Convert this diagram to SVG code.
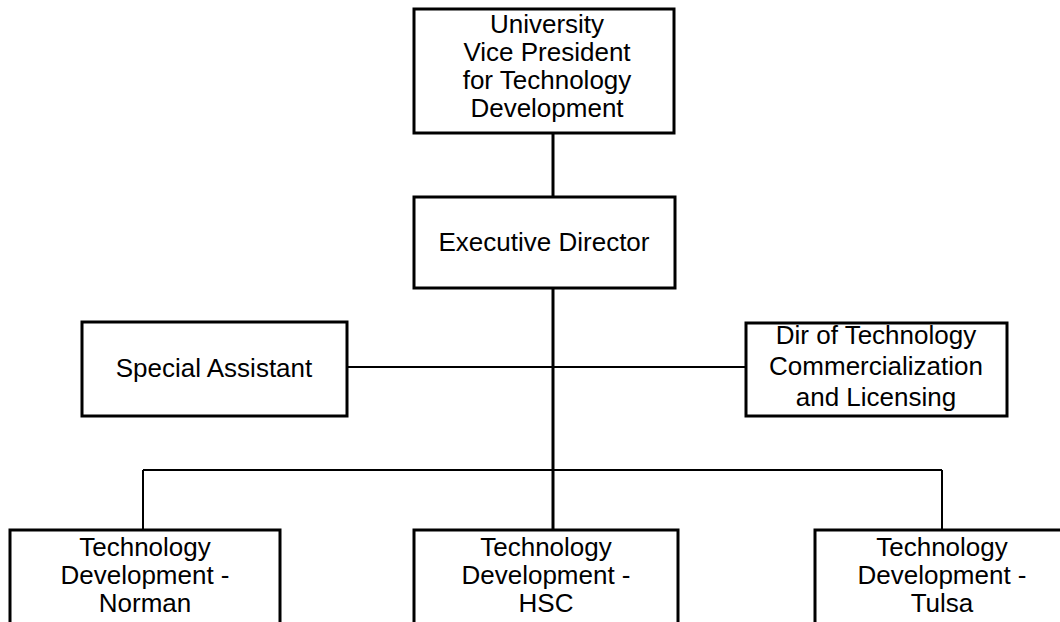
<svg xmlns="http://www.w3.org/2000/svg" width="1060" height="622" viewBox="0 0 1060 622">
<style>
.box{fill:#fff;stroke:#000;stroke-width:3}
.t{font-family:"Liberation Sans",Arial,sans-serif;font-size:26px;fill:#000;text-anchor:middle}
.c{stroke:#000;fill:none}
</style>
<rect width="1060" height="622" fill="#fff"/>
<g id="connectors">
<line class="c" x1="553" y1="133" x2="553" y2="197" stroke-width="3"/>
<line class="c" x1="553" y1="288" x2="553" y2="470" stroke-width="3"/>
<line class="c" x1="347" y1="367" x2="746" y2="367" stroke-width="2"/>
<line class="c" x1="143" y1="470" x2="942" y2="470" stroke-width="2"/>
<line class="c" x1="143" y1="470" x2="143" y2="530" stroke-width="2"/>
<line class="c" x1="942" y1="470" x2="942" y2="530" stroke-width="2"/>
<line class="c" x1="553" y1="470" x2="553" y2="530" stroke-width="3"/>
</g>
<g id="vp">
<rect class="box" x="414" y="9" width="260" height="124"/>
<text class="t" x="547" y="33">University</text>
<text class="t" x="547" y="61">Vice President</text>
<text class="t" x="547" y="89">for Technology</text>
<text class="t" x="547" y="117">Development</text>
</g>
<g id="exec">
<rect class="box" x="414" y="197" width="261" height="91"/>
<text class="t" x="544" y="251">Executive Director</text>
</g>
<g id="assistant">
<rect class="box" x="82" y="322" width="265" height="94"/>
<text class="t" x="214" y="377">Special Assistant</text>
</g>
<g id="commercialization">
<rect class="box" x="746" y="323" width="261" height="93"/>
<text class="t" x="876" y="344">Dir of Technology</text>
<text class="t" x="876" y="375">Commercialization</text>
<text class="t" x="876" y="406">and Licensing</text>
</g>
<g id="norman">
<rect class="box" x="10" y="530" width="270" height="110"/>
<text class="t" x="145" y="556">Technology</text>
<text class="t" x="145" y="584">Development -</text>
<text class="t" x="145" y="612">Norman</text>
</g>
<g id="hsc">
<rect class="box" x="414" y="530" width="264" height="110"/>
<text class="t" x="546" y="556">Technology</text>
<text class="t" x="546" y="584">Development -</text>
<text class="t" x="546" y="612">HSC</text>
</g>
<g id="tulsa">
<rect class="box" x="815" y="530" width="270" height="110"/>
<text class="t" x="942" y="556">Technology</text>
<text class="t" x="942" y="584">Development -</text>
<text class="t" x="942" y="612">Tulsa</text>
</g>
</svg>
